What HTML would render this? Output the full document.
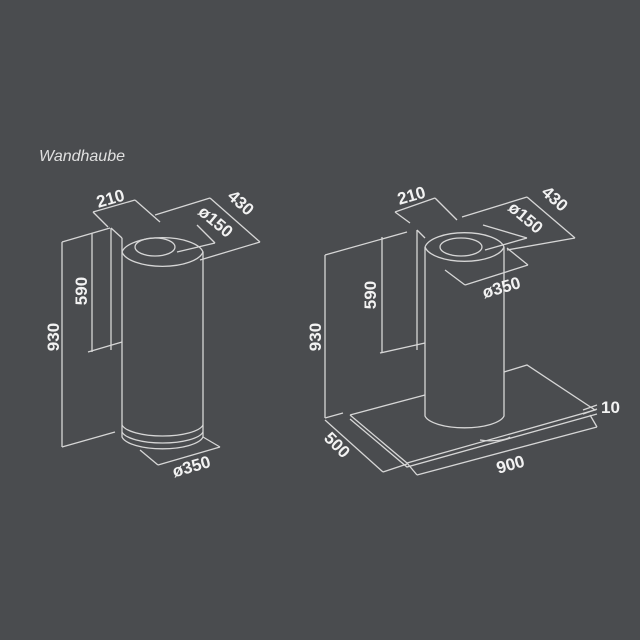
<!DOCTYPE html>
<html><head><style>
html,body{margin:0;padding:0;background:#4a4c4f}
svg{display:block}
text{font-family:"Liberation Sans",sans-serif;fill:#f2f2f2;font-size:17px}
</style></head><body>
<svg width="640" height="640" viewBox="0 0 640 640">
<rect width="640" height="640" fill="#4a4c4f"/>
<text x="39" y="161" style="font-style:italic;font-size:16px;fill:#e0e0e0">Wandhaube</text>
<g fill="none" stroke="#d6d6d6" stroke-width="1.3">
<!-- LEFT -->
<line x1="92" y1="233" x2="92" y2="352"/>
<line x1="111" y1="228" x2="111" y2="350"/>
<line x1="88" y1="352" x2="122" y2="342"/>
<path d="M111 228 L122 238"/>
<path d="M122 238 L122 437 A41 14 0 0 0 203 437 L203 252"/>
<path d="M122 252 A41 17 0 0 0 203 252 A41 17 0 0 0 122 252"/>
<ellipse cx="155" cy="247" rx="20" ry="9"/>
<path d="M122 425 A41 13 0 0 0 203 425"/>
<path d="M122 432 A41 13 0 0 0 203 432"/>
<line x1="62" y1="242" x2="62" y2="447"/>
<line x1="62" y1="242" x2="110" y2="228"/>
<line x1="62" y1="447" x2="115" y2="432"/>
<line x1="93" y1="212" x2="135" y2="200"/>
<line x1="93" y1="212" x2="108" y2="227"/>
<line x1="135" y1="200" x2="160" y2="222"/>
<line x1="155" y1="215" x2="210" y2="198"/>
<line x1="210" y1="198" x2="260" y2="242"/>
<line x1="260" y1="242" x2="200" y2="260"/>
<line x1="197" y1="225" x2="215" y2="243"/>
<line x1="215" y1="243" x2="177" y2="252"/>
<line x1="203" y1="437" x2="220" y2="447"/>
<line x1="220" y1="447" x2="158" y2="465"/>
<line x1="158" y1="465" x2="140" y2="450"/>
<!-- RIGHT -->
<line x1="382" y1="237" x2="382" y2="353"/>
<line x1="417" y1="230" x2="417" y2="350"/>
<line x1="380" y1="353" x2="425" y2="343"/>
<path d="M417 230 L425 238"/>
<path d="M425 247 L425 416 A40 14 0 0 0 504 416 L504 247"/>
<path d="M425 247 A40 17 0 0 0 504 247 A40 17 0 0 0 425 247"/>
<ellipse cx="461" cy="247" rx="21" ry="9"/>
<path d="M350 415 L425 395 M504 372 L527 365 L595 410 L407 463 L350 415"/>
<path d="M350 419 L407 467 L597 414"/>
<path d="M480 440 A20 5 0 0 0 510 437"/>
<line x1="325" y1="255" x2="325" y2="418"/>
<line x1="325" y1="255" x2="407" y2="232"/>
<line x1="325" y1="418" x2="343" y2="413"/>
<line x1="325" y1="420" x2="383" y2="472"/>
<line x1="383" y1="472" x2="407" y2="464"/>
<line x1="407" y1="463" x2="417" y2="475"/>
<line x1="417" y1="475" x2="597" y2="427"/>
<line x1="597" y1="427" x2="590" y2="415"/>
<line x1="583" y1="410" x2="597" y2="405"/>
<line x1="583" y1="414" x2="597" y2="409"/>
<line x1="395" y1="212" x2="435" y2="198"/>
<line x1="395" y1="212" x2="410" y2="223"/>
<line x1="435" y1="198" x2="457" y2="220"/>
<line x1="462" y1="217" x2="527" y2="197"/>
<line x1="527" y1="197" x2="575" y2="238"/>
<line x1="575" y1="238" x2="507" y2="250"/>
<line x1="483" y1="225" x2="527" y2="238"/>
<line x1="527" y1="238" x2="485" y2="250"/>
<line x1="445" y1="270" x2="465" y2="285"/>
<line x1="465" y1="285" x2="528" y2="265"/>
<line x1="528" y1="265" x2="507" y2="248"/>
</g>
<g font-weight="bold">
<text transform="translate(112,204) rotate(-16)" text-anchor="middle">210</text>
<text transform="translate(237,207) rotate(42)" text-anchor="middle">430</text>
<text transform="translate(212,226) rotate(40)" text-anchor="middle">ø150</text>
<text transform="translate(87,291) rotate(-90)" text-anchor="middle">590</text>
<text transform="translate(59,337) rotate(-90)" text-anchor="middle">930</text>
<text transform="translate(193,472) rotate(-16)" text-anchor="middle">ø350</text>
<text transform="translate(413,201) rotate(-16)" text-anchor="middle">210</text>
<text transform="translate(551,203) rotate(42)" text-anchor="middle">430</text>
<text transform="translate(522,222) rotate(40)" text-anchor="middle">ø150</text>
<text transform="translate(503,293) rotate(-16)" text-anchor="middle">ø350</text>
<text transform="translate(376,295) rotate(-90)" text-anchor="middle">590</text>
<text transform="translate(321,337) rotate(-90)" text-anchor="middle">930</text>
<text transform="translate(333,449) rotate(45)" text-anchor="middle">500</text>
<text transform="translate(512,470) rotate(-16)" text-anchor="middle">900</text>
<text x="601" y="413">10</text>
</g>
</svg>
</body></html>
